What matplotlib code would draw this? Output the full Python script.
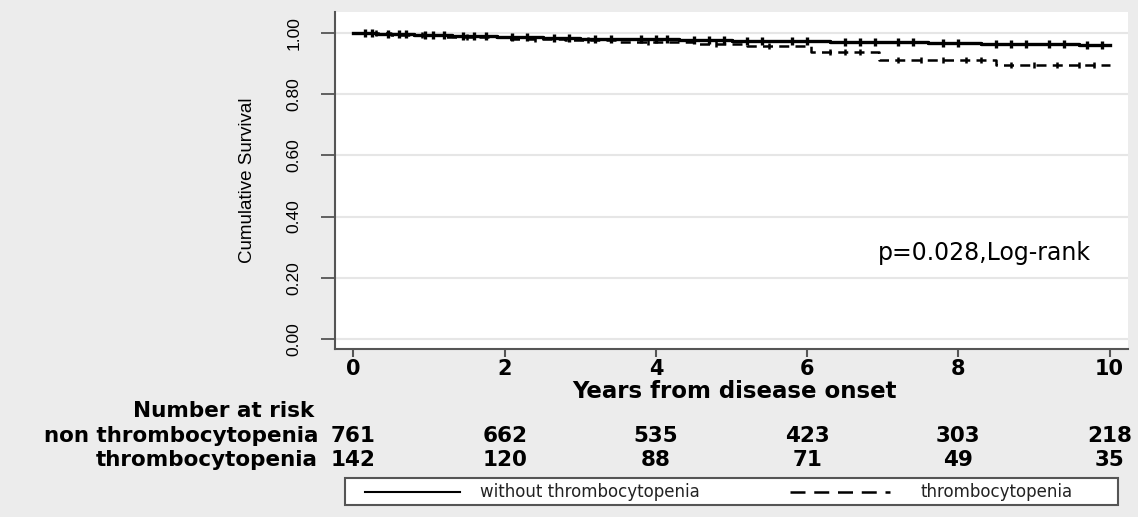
import matplotlib
matplotlib.use('Agg')
import numpy as np
import matplotlib.pyplot as plt
from matplotlib.lines import Line2D
from matplotlib.patches import Rectangle
from matplotlib.transforms import blended_transform_factory

# Kaplan-Meier step values
t_solid = [0, 0.3, 0.8, 1.3, 1.9, 2.5, 3.0, 3.6, 4.3, 5.0, 5.6, 6.3, 7.0, 7.6, 8.3, 9.0, 9.6, 10.0]
s_solid = [1.0, 0.997, 0.994, 0.991, 0.988, 0.985, 0.982, 0.979, 0.977, 0.975, 0.973, 0.971, 0.969, 0.967, 0.965, 0.963, 0.961, 0.961]
t_dash = [0, 0.5, 1.2, 2.0, 2.8, 3.5, 4.5, 5.2, 6.05, 6.95, 8.5, 10.0]
s_dash = [1.0, 0.994, 0.988, 0.982, 0.976, 0.970, 0.964, 0.958, 0.938, 0.912, 0.895, 0.895]

# censoring ticks
c_solid = [0.15, 0.25, 0.45, 0.6, 0.7, 0.95, 1.05, 1.2, 1.45, 1.6, 1.75, 2.1, 2.3, 2.65, 2.85, 3.2, 3.4,
           3.8, 4.0, 4.15, 4.5, 4.7, 4.9, 5.2, 5.4, 5.8, 6.0, 6.5, 6.7, 6.9, 7.2, 7.4, 7.8, 8.0, 8.5,
           8.7, 8.9, 9.2, 9.4, 9.7, 9.9]
c_dash = [0.3, 0.9, 1.5, 2.4, 3.1, 3.9, 4.8, 5.5, 6.3, 6.5, 6.7, 7.2, 7.5, 7.8, 8.1, 8.3, 8.7, 9.0, 9.3, 9.6, 9.8]

xticks = [0, 2, 4, 6, 8, 10]
yticks = [0.0, 0.2, 0.4, 0.6, 0.8, 1.0]
risk_non = [761, 662, 535, 423, 303, 218]
risk_thr = [142, 120, 88, 71, 49, 35]
groups = ['without thrombocytopenia', 'thrombocytopenia']

def step_at(tt, ss, x):
    i = np.searchsorted(tt, x, side='right') - 1
    return np.array(ss)[i]

W, H = 1138.0, 517.0
fig = plt.figure(figsize=(11.38, 5.17), dpi=100, facecolor='#ececec')
ax = fig.add_axes([0.294, 0.325, 0.697, 0.652])
ax.set_facecolor('white')

ax.step(t_solid, s_solid, where='post', color='black', lw=2.4)
ax.step(t_dash, s_dash, where='post', color='black', lw=1.8, ls=(0, (4, 2.5)))
ax.plot(c_solid, step_at(t_solid, s_solid, c_solid), ls='none', marker='|', ms=6, mew=2.4, color='black')
ax.plot(c_dash, step_at(t_dash, s_dash, c_dash), ls='none', marker='|', ms=5, mew=1.8, color='black')

ax.set_xlim(-0.25, 10.24)
ax.set_ylim(-0.033, 1.069)
for y in yticks:
    ax.axhline(y, color='#e6e6e6', lw=1.5, zorder=0)

for s in ['top', 'right']:
    ax.spines[s].set_visible(False)
for s in ['left', 'bottom']:
    ax.spines[s].set_color('#555555')
    ax.spines[s].set_linewidth(1.5)

ax.set_yticks(yticks)
ax.set_yticklabels(['%.2f' % v for v in yticks], rotation=90, va='center',
                   fontsize=12.5, family='Liberation Sans')
ax.tick_params(axis='y', length=10, width=1.3, color='#555555', pad=14)
ax.set_xticks(xticks)
ax.set_xticklabels([str(v) for v in xticks], fontsize=15, fontweight='bold')
ax.tick_params(axis='x', length=6, width=1.5, color='#555555', pad=1)
ax.set_ylabel('Cumulative Survival', fontsize=13.5, family='Liberation Sans', labelpad=22)
fig.text(734 / W, 1 - 391 / H, 'Years from disease onset', ha='center', va='center',
         fontsize=16.5, fontweight='bold')

ax.text(9.75, 0.28, 'p=0.028,Log-rank', fontsize=17, ha='right', va='center')

# number at risk table
tr = blended_transform_factory(ax.transData, fig.transFigure)
fs = 15.5
fig.text(314 / W, 1 - 411 / H, 'Number at risk', ha='right', va='center', fontsize=fs, fontweight='bold')
fig.text(318 / W, 1 - 436 / H, 'non thrombocytopenia', ha='right', va='center', fontsize=fs, fontweight='bold')
fig.text(318 / W, 1 - 460 / H, 'thrombocytopenia', ha='right', va='center', fontsize=fs, fontweight='bold')
for x, a, b in zip(xticks, risk_non, risk_thr):
    ax.text(x, 1 - 436 / H, str(a), transform=tr, ha='center', va='center', fontsize=fs, fontweight='bold')
    ax.text(x, 1 - 460 / H, str(b), transform=tr, ha='center', va='center', fontsize=fs, fontweight='bold')

# legend box drawn by hand to match the layout
fig.add_artist(Rectangle((345 / W, 1 - 505 / H), 773 / W, 27 / H, transform=fig.transFigure,
                         facecolor='white', edgecolor='#555555', lw=1.5))
ly = 1 - 492 / H
fig.add_artist(Line2D([365 / W, 460 / W], [ly, ly], transform=fig.transFigure, color='black', lw=1.5))
fig.add_artist(Line2D([790 / W, 890 / W], [ly, ly], transform=fig.transFigure, color='black', lw=1.8,
                      ls=(0, (6, 3.5))))
fig.text(480 / W, ly, groups[0], ha='left', va='center', fontsize=12, color='#222222')
fig.text(920 / W, ly, groups[1], ha='left', va='center', fontsize=12, color='#222222')

fig.savefig('out.png', dpi=100, facecolor=fig.get_facecolor())
